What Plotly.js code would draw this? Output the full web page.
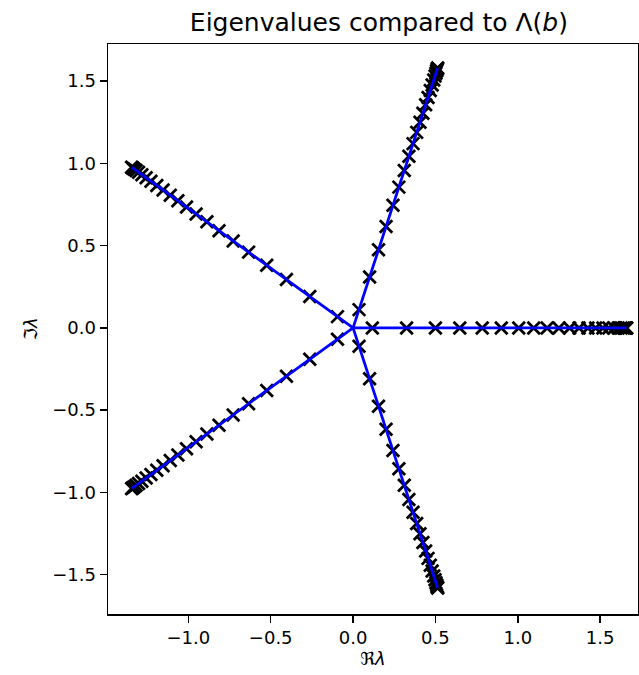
<!DOCTYPE html>
<html>
<head>
<meta charset="utf-8">
<script src="https://cdn.plot.ly/plotly-3.0.1.min.js"></script>
<style>html,body{margin:0;padding:0;background:#fff;}#chart{width:639px;height:675px;}</style>
</head>
<body>
<div id="chart"></div>
<script>
// Eigenvalues lie on five rays (polar form: ray angle in degrees, radius)
const rayAnglesDeg = [0, 72, 144, 216, 288];
const eigRadii = [0.117, 0.325, 0.500, 0.648, 0.784, 0.900, 1.006, 1.097, 1.178, 1.250,
                  1.315, 1.372, 1.426, 1.473, 1.517, 1.553, 1.585, 1.610, 1.628, 1.642,
                  1.652, 1.658, 1.662];
// Lambda(b): five segments from origin
const lambdaRayLength = 1.66;

const xTickVals = [-1.0, -0.5, 0.0, 0.5, 1.0, 1.5];
const xTickText = ['\u22121.0', '\u22120.5', '0.0', '0.5', '1.0', '1.5'];
const yTickVals = [-1.5, -1.0, -0.5, 0.0, 0.5, 1.0, 1.5];
const yTickText = ['\u22121.5', '\u22121.0', '\u22120.5', '0.0', '0.5', '1.0', '1.5'];

const eigRe = [], eigIm = [];
rayAnglesDeg.forEach(a => {
  const t = a * Math.PI / 180;
  eigRadii.forEach(r => { eigRe.push(r * Math.cos(t)); eigIm.push(r * Math.sin(t)); });
});
const lamRe = [], lamIm = [];
rayAnglesDeg.forEach(a => {
  const t = a * Math.PI / 180;
  lamRe.push(0, lambdaRayLength * Math.cos(t), null);
  lamIm.push(0, lambdaRayLength * Math.sin(t), null);
});

const font = {family: 'DejaVu Sans', size: 18, color: '#000'};
const traces = [
  {x: eigRe, y: eigIm, type: 'scatter', mode: 'markers', hoverinfo: 'skip',
   marker: {symbol: 'x-thin', size: 12.5, color: '#000', line: {color: '#000', width: 2.8}}},
  {x: lamRe, y: lamIm, type: 'scatter', mode: 'lines', hoverinfo: 'skip',
   line: {color: '#0000ff', width: 2.8}}
];
const axisCommon = {
  showgrid: false, zeroline: false, showline: true, mirror: true,
  linecolor: '#000', linewidth: 1.5, ticks: 'outside', ticklen: 7, tickwidth: 1.5,
  tickcolor: '#000', tickfont: font, tickmode: 'array'
};
const layout = {
  width: 639, height: 675,
  margin: {l: 108, r: 1, t: 44, b: 61},
  paper_bgcolor: '#fff', plot_bgcolor: '#fff',
  showlegend: false,
  font: font,
  title: {text: 'Eigenvalues compared to \u039b(<i>b</i>)', font: {family: 'DejaVu Sans', size: 25, color: '#000'},
          x: 0.593, xref: 'container', xanchor: 'center', y: 1 - 22/675, yref: 'container', yanchor: 'middle'},
  xaxis: Object.assign({}, axisCommon, {range: [-1.488, 1.73], tickvals: xTickVals, ticktext: xTickText,
          title: {text: '\u211c<i>\u03bb</i>', font: font, standoff: 4}}),
  yaxis: Object.assign({}, axisCommon, {range: [-1.739, 1.726], tickvals: yTickVals, ticktext: yTickText,
          title: {text: '\u2111<i>\u03bb</i>', font: font, standoff: 10}})
};
Plotly.newPlot('chart', traces, layout, {displayModeBar: false, staticPlot: true});
</script>
</body>
</html>
